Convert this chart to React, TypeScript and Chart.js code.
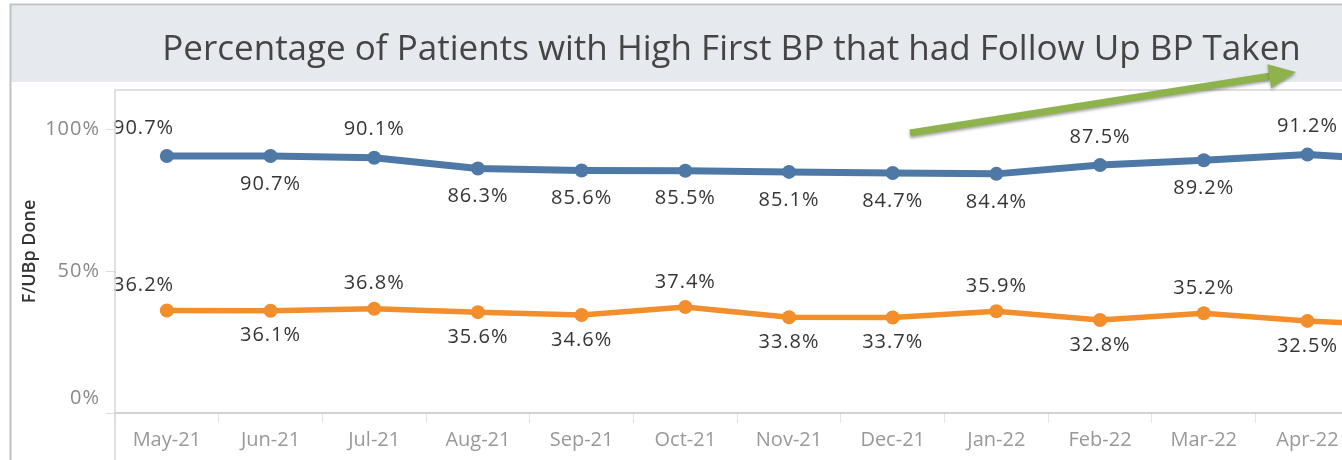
import React, { useEffect, useRef } from "react";
import { Chart, registerables } from "chart.js";

Chart.register(...registerables);

const categories = [
  "May-21", "Jun-21", "Jul-21", "Aug-21", "Sep-21", "Oct-21",
  "Nov-21", "Dec-21", "Jan-22", "Feb-22", "Mar-22", "Apr-22", "May-22",
];
const highFirstFollowUp = [90.7, 90.7, 90.1, 86.3, 85.6, 85.5, 85.1, 84.7, 84.4, 87.5, 89.2, 91.2, 89.0];
const otherFollowUp = [36.2, 36.1, 36.8, 35.6, 34.6, 37.4, 33.8, 33.7, 35.9, 32.8, 35.2, 32.5, 30.8];
const yTicks = [0, 50, 100];
const highLabelAbove = [true, false, true, false, false, false, false, false, false, true, false, true, false];
const otherLabelAbove = [true, false, true, false, false, true, false, false, true, false, true, false, false];

const TITLE = "Percentage of Patients with High First BP that had Follow Up BP Taken";
const FONT = "'Open Sans', 'Noto Sans', sans-serif";

const decorPlugin = {
  id: "decor",
  beforeDraw(chart: any) {
    const ctx = chart.ctx;
    ctx.save();
    ctx.fillStyle = "#ffffff";
    ctx.fillRect(0, 0, chart.width, chart.height);
    ctx.fillStyle = "#e6eaee";
    ctx.fillRect(11, 5.5, chart.width, 76.5);
    ctx.strokeStyle = "#c2c2c2";
    ctx.lineWidth = 2;
    ctx.beginPath();
    ctx.moveTo(10.5, chart.height);
    ctx.lineTo(10.5, 4.5);
    ctx.lineTo(chart.width, 4.5);
    ctx.stroke();
    ctx.restore();
  },
  afterDatasetsDraw(chart: any) {
    const ctx = chart.ctx;
    const area = chart.chartArea;
    ctx.save();
    ctx.font = `20px ${FONT}`;
    (ctx as any).letterSpacing = "1px";
    ctx.fillStyle = "#363636";
    ctx.textBaseline = "middle";
    const sets = [
      { idx: 0, above: highLabelAbove, off: 28 },
      { idx: 1, above: otherLabelAbove, off: 25 },
    ];
    sets.forEach((s) => {
      const meta = chart.getDatasetMeta(s.idx);
      const data = chart.data.datasets[s.idx].data as number[];
      meta.data.forEach((pt: any, i: number) => {
        const txt = data[i].toFixed(1) + "%";
        const y = s.above[i] ? pt.y - s.off : pt.y + s.off;
        if (i === 0) {
          ctx.textAlign = "left";
          ctx.fillText(txt, area.left - 2, y);
        } else {
          ctx.textAlign = "center";
          ctx.fillText(txt, pt.x, y);
        }
      });
    });
    ctx.restore();
  },
  afterDraw(chart: any) {
    const ctx = chart.ctx;
    const area = chart.chartArea;
    const yScale = chart.scales.y;
    ctx.save();
    // plot frame lines
    ctx.strokeStyle = "#d6d6d6";
    ctx.lineWidth = 1.5;
    ctx.beginPath();
    ctx.moveTo(area.left, chart.height);
    ctx.lineTo(area.left, area.top);
    ctx.lineTo(chart.width, area.top);
    ctx.stroke();
    // y tick labels
    ctx.font = `20px ${FONT}`;
    (ctx as any).letterSpacing = "1px";
    ctx.fillStyle = "#8a8a8a";
    ctx.textAlign = "right";
    ctx.textBaseline = "middle";
    yTicks.forEach((v) => {
      let y = yScale.getPixelForValue(v);
      y = Math.min(y, area.bottom - 15);
      ctx.fillText(v + "%", area.left - 15, y);
    });
    (ctx as any).letterSpacing = "0px";
    // green arrow annotation
    const sx = 910, sy = 133, tx = 1296, ty = 72;
    const ang = Math.atan2(ty - sy, tx - sx);
    const headLen = 27, headHalf = 12;
    const bx = tx - headLen * Math.cos(ang);
    const by = ty - headLen * Math.sin(ang);
    ctx.shadowColor = "rgba(0,0,0,0.35)";
    ctx.shadowBlur = 3;
    ctx.shadowOffsetY = 2;
    ctx.strokeStyle = "#8fb34c";
    ctx.fillStyle = "#8fb34c";
    ctx.lineWidth = 7;
    ctx.beginPath();
    ctx.moveTo(sx, sy);
    ctx.lineTo(bx, by);
    ctx.stroke();
    ctx.beginPath();
    ctx.moveTo(tx, ty);
    ctx.lineTo(bx + headHalf * Math.sin(ang), by - headHalf * Math.cos(ang));
    ctx.lineTo(bx - headHalf * Math.sin(ang), by + headHalf * Math.cos(ang));
    ctx.closePath();
    ctx.fill();
    ctx.restore();
  },
};

export default function App() {
  const ref = useRef<HTMLCanvasElement | null>(null);
  useEffect(() => {
    if (!ref.current) return;
    const chart = new Chart(ref.current, {
      type: "line",
      data: {
        labels: categories,
        datasets: [
          {
            label: "High First BP",
            data: highFirstFollowUp,
            borderColor: "#4e79a7",
            backgroundColor: "#4e79a7",
            borderWidth: 7,
            pointRadius: 7,
            pointHoverRadius: 7,
            pointBorderWidth: 0,
            tension: 0,
          },
          {
            label: "Other",
            data: otherFollowUp,
            borderColor: "#f28e2b",
            backgroundColor: "#f28e2b",
            borderWidth: 5.5,
            pointRadius: 7,
            pointHoverRadius: 7,
            pointBorderWidth: 0,
            tension: 0,
          },
        ],
      },
      options: {
        responsive: false,
        animation: false,
        events: [],
        layout: { padding: { left: 0, right: 7, top: 0, bottom: 0 } },
        plugins: {
          legend: { display: false },
          tooltip: { enabled: false },
          title: {
            display: true,
            text: TITLE,
            color: "#454545",
            font: { family: FONT, size: 35, weight: "normal", lineHeight: 1.2 },
            padding: { top: 29, bottom: 19 },
          },
        },
        scales: {
          x: {
            type: "category",
            offset: true,
            grid: {
              display: true,
              offset: true,
              drawOnChartArea: false,
              drawTicks: true,
              tickLength: 10,
              color: "#e4e4e4",
            },
            border: { display: true, color: "#d2d2d2", width: 2 },
            ticks: {
              color: "#999999",
              font: { family: FONT, size: 20 },
              padding: 5,
              autoSkip: false,
              maxRotation: 0,
              minRotation: 0,
            },
            afterFit: (scale: any) => {
              scale.height = 47;
            },
          },
          y: {
            min: 0,
            max: 114,
            afterBuildTicks: (scale: any) => {
              scale.ticks = yTicks.map((v) => ({ value: v }));
            },
            grid: {
              display: true,
              drawOnChartArea: false,
              drawTicks: true,
              tickLength: 9,
              color: "#dddddd",
            },
            border: { display: false },
            ticks: { display: false },
            title: {
              display: true,
              text: "F/UBp Done",
              color: "#333333",
              font: { family: FONT, size: 18, weight: "600", lineHeight: 1.2 },
              padding: { top: 19, bottom: 0 },
            },
            afterFit: (scale: any) => {
              scale.width = 115;
            },
          },
        },
      },
      plugins: [decorPlugin],
    });
    return () => chart.destroy();
  }, []);
  return (
    <div
      style={{
        position: "fixed",
        left: 0,
        top: 0,
        width: 1342,
        height: 460,
        overflow: "hidden",
        background: "#ffffff",
      }}
    >
      <canvas ref={ref} width={1470} height={460} style={{ display: "block" }} />
    </div>
  );
}
